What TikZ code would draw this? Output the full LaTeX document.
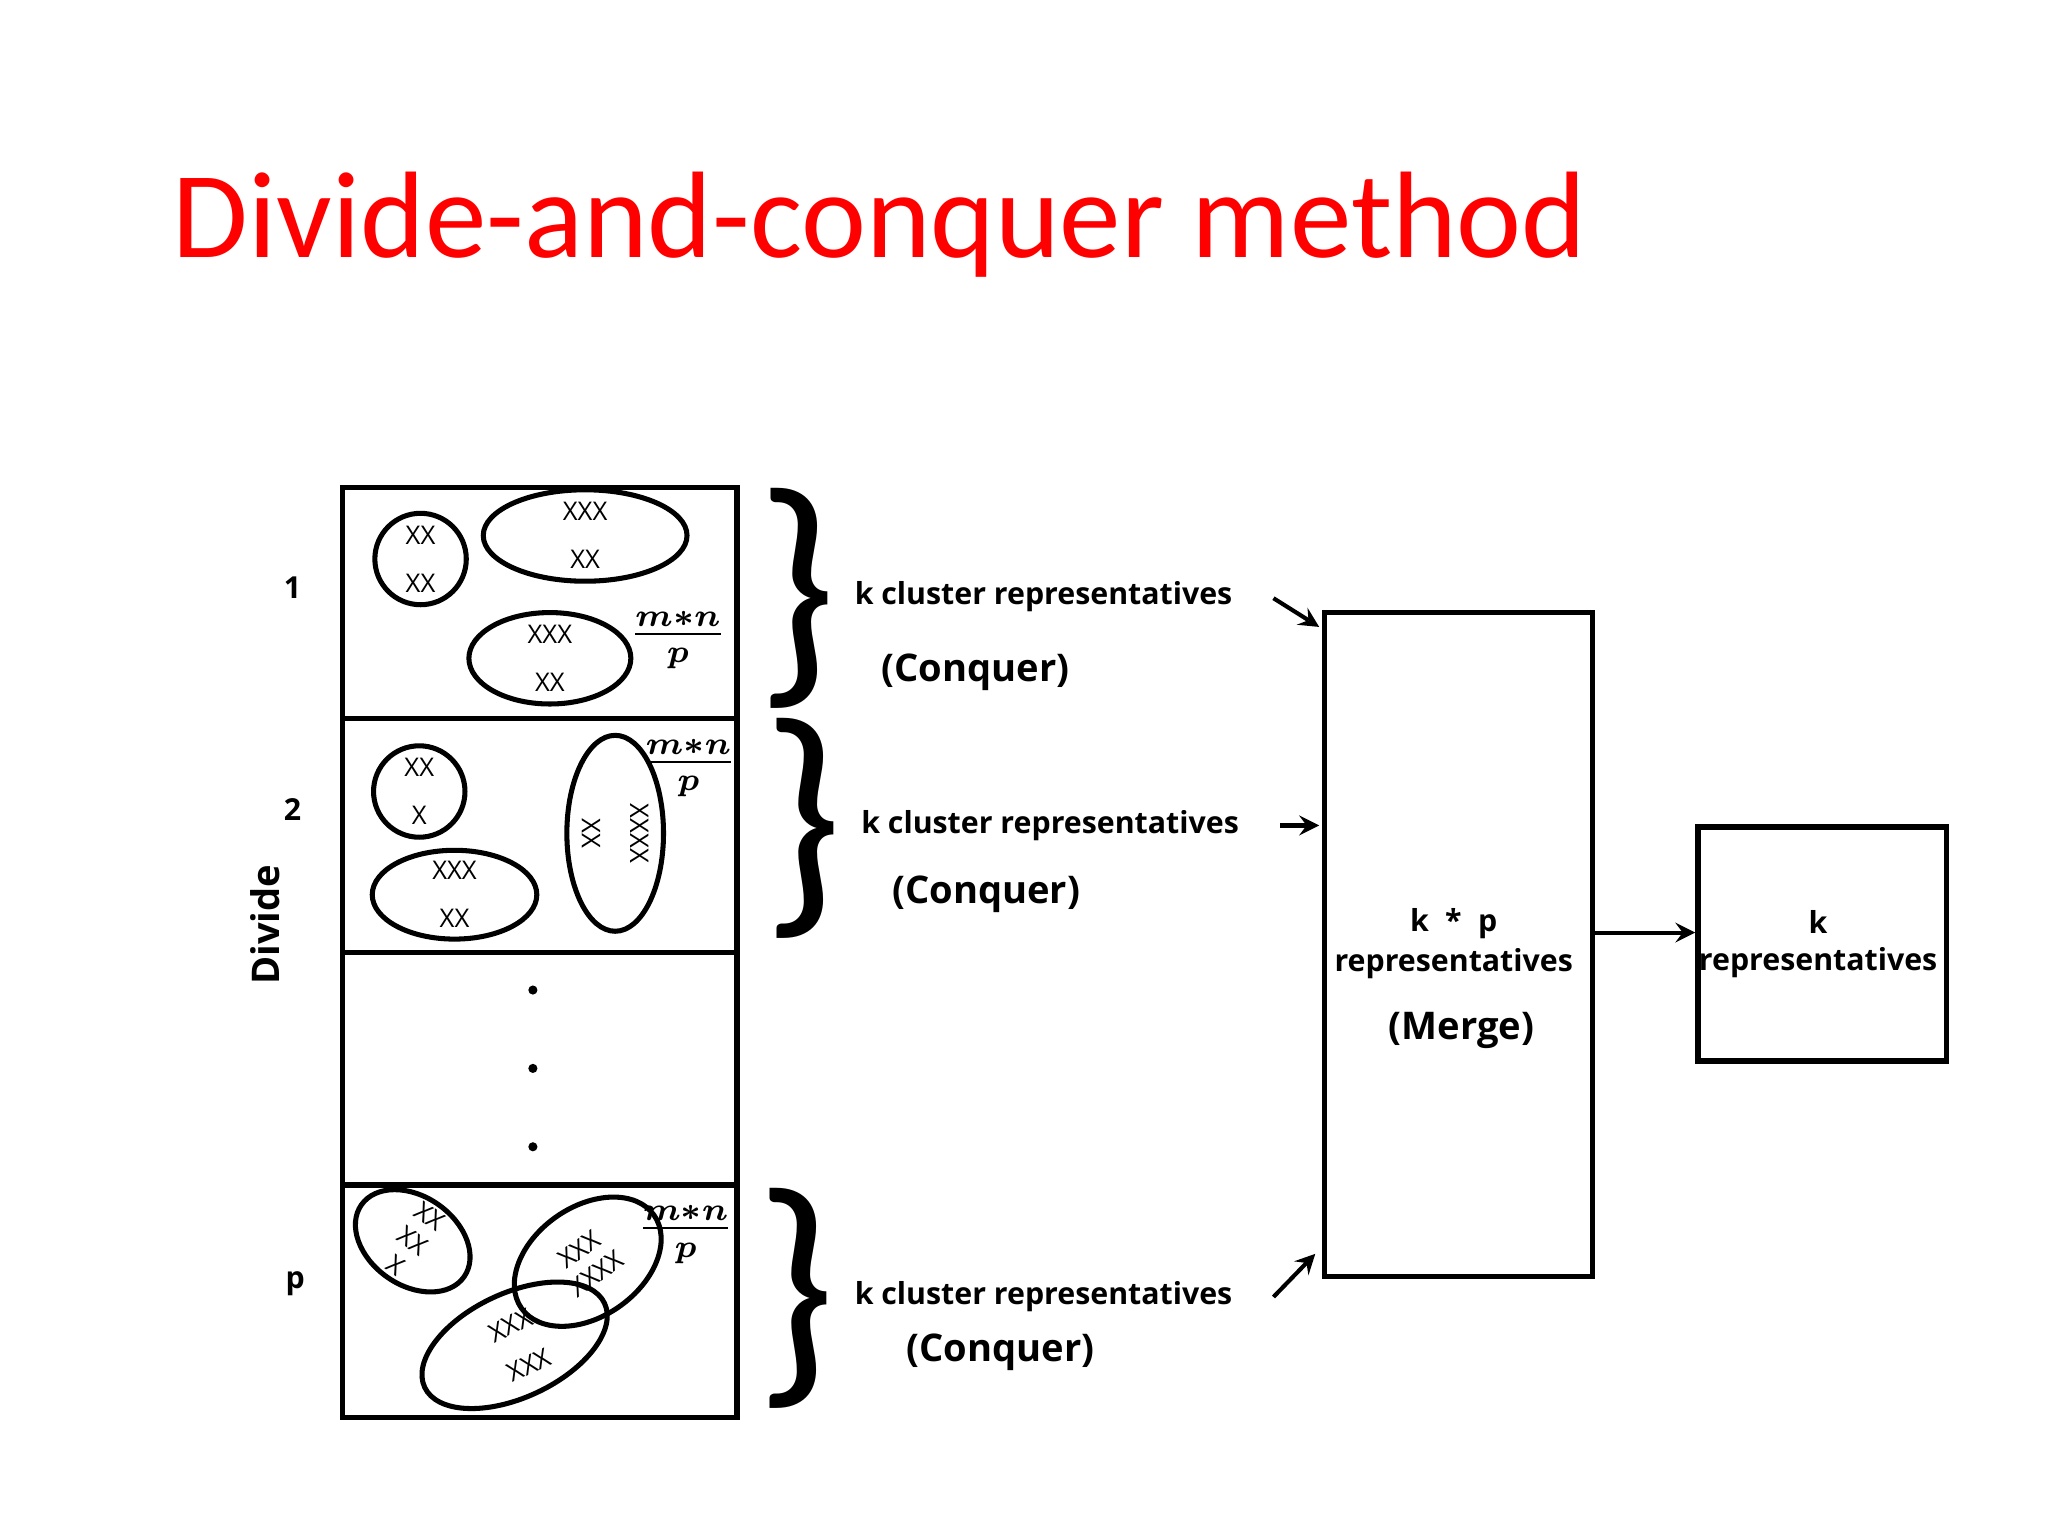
\documentclass[tikz,border=0pt]{standalone}
\usepackage{amsmath}
\usepackage{fontspec}
\setmainfont{Carlito}
\newfontfamily\osans{Open Sans}
\begin{document}
\begin{tikzpicture}[x=0.01cm,y=-0.01cm,
  bx/.style={draw,line width=1.2pt},
  ell/.style={draw,line width=1.1pt},
  lab/.style={font=\osans\bfseries\fontsize{6.6}{8}\selectfont},
  big/.style={font=\osans\bfseries\fontsize{8.3}{10}\selectfont},
  xx/.style={font=\osans\fontsize{5.6}{6.5}\selectfont,align=center,inner sep=0pt},
  fr/.style={font=\fontsize{10}{11}\selectfont,inner sep=0pt},
  br/.style={font=\fontsize{62}{62}\selectfont,inner sep=0,scale=0.9},
  ar/.style={-stealth,line width=0.9pt}]
\useasboundingbox (0,0) rectangle (1568,1176);
\node[red,font=\fontsize{26.8}{30}\selectfont,anchor=west] (title) at (120,172) {Divide-and-conquer method};
% rows
\node[bx,anchor=north west,inner sep=0,minimum width=3.02cm,minimum height=1.77cm] (r1) at (260,371) {};
\node[bx,anchor=north west,inner sep=0,minimum width=3.02cm,minimum height=1.79cm] (r2) at (260,548) {};
\node[bx,anchor=north west,inner sep=0,minimum width=3.02cm,minimum height=1.78cm] (r3) at (260,727) {};
\node[bx,anchor=north west,inner sep=0,minimum width=3.02cm,minimum height=1.78cm] (r4) at (260,905) {};
\node[lab] (l1) at (224,450) {1};
\node[lab] (l2) at (224,620) {2};
\node[lab] (lp) at (226,983) {p};
\node[big,rotate=90] (dv) at (203,708) {Divide};
% row 1
\draw[ell] (322,428) circle (35);
\node[xx] (a1) at (322,428) {XX\\[4pt]XX};
\draw[ell] (448,410) ellipse (78 and 35);
\node[xx] (a2) at (448,410) {XXX\\[4pt]XX};
\draw[ell] (421,504) ellipse (62 and 35);
\node[xx] (a3) at (421,504) {XXX\\[4pt]XX};
\node[fr] (f1) at (519,490) {$\boldsymbol{\frac{m*n}{p}}$};
% row 2
\draw[ell] (321,606) circle (35);
\node[xx] (b1) at (321,606) {XX\\[4pt]X};
\draw[ell] (348,685) ellipse (63 and 34);
\node[xx] (b2) at (348,685) {XXX\\[4pt]XX};
\draw[ell] (471,638) ellipse (37 and 75);
\node[xx,rotate=-90] (b3) at (471,638) {XXXX\\[4pt]XX};
\node[fr] (f2) at (527,588) {$\boldsymbol{\frac{m*n}{p}}$};
% dots
\foreach \yy in {758,818,878} \fill (408,\yy) circle (3.5);
% row p
\draw[ell,rotate around={-35:(316,950)}] (316,950) ellipse (48 and 34);
\node[xx,rotate=-35] (c1) at (316,950) {XX\\XX\\X};
\draw[ell,rotate around={35:(450,966)}] (450,966) ellipse (62 and 42);
\node[xx,rotate=35] (c2) at (450,966) {XXX\\XXXX};
\draw[ell,rotate around={25:(394,1030)}] (394,1030) ellipse (76 and 40);
\node[xx,rotate=25] (c3) at (398,1030) {XXX\\[3pt]XXX};
\node[fr] (f3) at (525,945) {$\boldsymbol{\frac{m*n}{p}}$};
% braces
\node[br] (br1) at (610,458) {\}};
\node[br] (br2) at (615,634) {\}};
\node[br] (br3) at (609,994) {\}};
\node[lab,anchor=west] (k1) at (642,457) {k cluster representatives};
\node[big] (c1t) at (747,515) {(Conquer)};
\node[lab,anchor=west] (k2) at (647,632) {k cluster representatives};
\node[big] (c2t) at (755,685) {(Conquer)};
\node[lab,anchor=west] (k3) at (642,993) {k cluster representatives};
\node[big] (c3t) at (766,1035) {(Conquer)};
% merge
\node[bx,anchor=north west,inner sep=0,minimum width=2.05cm,minimum height=5.08cm] (m) at (1012,467) {};
\node[lab] (m1) at (1113,707) {k \;*\; p};
\node[lab] (m2) at (1113,738) {representatives};
\node[big] (m3) at (1119,789) {(Merge)};
\node[bx,anchor=north west,inner sep=0,minimum width=1.9cm,minimum height=1.79cm] (f) at (1298,631) {};
\node[lab] (fk) at (1392,706) {k};
\node[lab] (fr2) at (1392,737) {representatives};
\coordinate (s1) at (975,458); \coordinate (e1) at (1010,480);
\coordinate (s2) at (980,632); \coordinate (e2) at (1010,632);
\coordinate (s3) at (975,993); \coordinate (e3) at (1007,960);
\draw[ar] (s1) -- (e1);
\draw[ar] (s2) -- (e2);
\draw[ar] (s3) -- (e3);
\draw[ar] (m.east |- 0,714) -- (f.west |- 0,714);
\end{tikzpicture}
\end{document}
